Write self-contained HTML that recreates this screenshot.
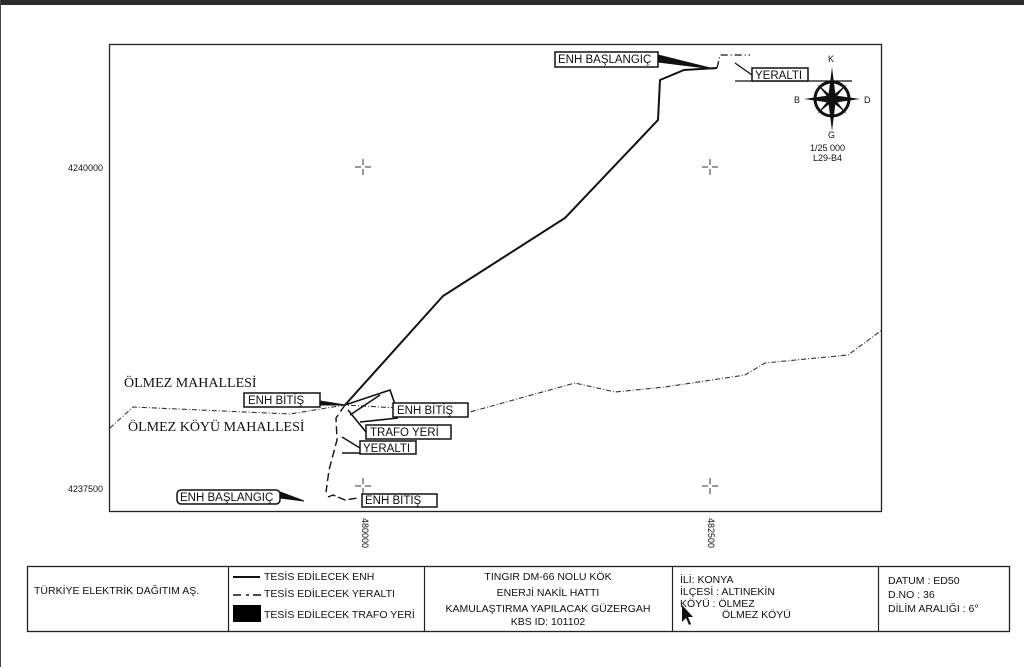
<!DOCTYPE html>
<html><head><meta charset="utf-8"><style>
html,body{margin:0;padding:0;background:#fff;width:1024px;height:667px;overflow:hidden}
svg{display:block}
text{font-family:"Liberation Sans",sans-serif;fill:#111}
.lb{font-size:11.5px}
.bx{fill:#fff;stroke:#111;stroke-width:1.5}
</style></head><body>
<svg width="1024" height="667" viewBox="0 0 1024 667" xmlns="http://www.w3.org/2000/svg">
<rect x="0" y="0" width="1024" height="5" fill="#2b2b2b"/>
<line x1="0.5" y1="0" x2="0.5" y2="667" stroke="#444" stroke-width="1"/>
<rect x="109.5" y="44.5" width="772" height="467" fill="none" stroke="#222" stroke-width="1.3"/>
<g stroke="#333" stroke-width="1">
<path d="M363 159v6M363 169v6M355 167h6M365 167h6"/>
<path d="M710 159v6M710 169v6M702 167h6M712 167h6"/>
<path d="M363 478v6M363 488v6M355 486h6M365 486h6"/>
<path d="M710 478v6M710 488v6M702 486h6M712 486h6"/>
</g>
<text x="68" y="171" font-size="9">4240000</text>
<text x="68" y="492" font-size="9">4237500</text>
<text transform="translate(362,518) rotate(90)" font-size="9">480000</text>
<text transform="translate(708,518) rotate(90)" font-size="9">482500</text>
<polyline points="110,428 133,407 200,410 290,414 345,405 470,412 575,383 615,392 665,387 745,375 765,363 848,355 882,330" fill="none" stroke="#333" stroke-width="1.1" stroke-dasharray="5,2,1,2"/>
<polyline points="345,405 443,296 565,218 658,120 660,80 684,70 717,68" fill="none" stroke="#111" stroke-width="2"/>
<polyline points="717,68 720,55 750,55" fill="none" stroke="#111" stroke-width="1.3" stroke-dasharray="7,3,1,3"/>
<polyline points="345,405 336,418 337,440 329,470 326,492" fill="none" stroke="#111" stroke-width="1.4" stroke-dasharray="8,4"/>
<polyline points="328,497 333,495 345,500 358,498" fill="none" stroke="#111" stroke-width="1.4" stroke-dasharray="8,3"/>
<text x="124" y="387" style="font-family:'Liberation Serif',serif" font-size="14">ÖLMEZ MAHALLESİ</text>
<text x="128" y="431" style="font-family:'Liberation Serif',serif" font-size="14">ÖLMEZ KÖYÜ MAHALLESİ</text>
<path d="M320 401 L345 405 L320 405" fill="#111" stroke="#111" stroke-width="1"/>
<rect class="bx" x="244" y="393" width="76" height="14"/>
<text class="lb" x="248" y="404">ENH BİTİŞ</text>
<path d="M345 405 L390 390 L397 410 M350 415 L380 395 M360 422 L398 418" fill="none" stroke="#111" stroke-width="1.6"/>
<rect class="bx" x="393" y="403" width="75" height="14"/>
<text class="lb" x="397" y="414">ENH BİTİŞ</text>
<path d="M348 410 L366 432" stroke="#111" stroke-width="1.6"/>
<rect class="bx" x="366" y="425" width="85" height="14"/>
<text class="lb" x="370" y="436">TRAFO YERİ</text>
<path d="M342 437 L360 448 M342 453 H416" fill="none" stroke="#111" stroke-width="1.4"/>
<rect class="bx" x="360" y="441" width="56" height="13"/>
<text class="lb" x="363" y="452">YERALTI</text>
<path d="M280 492 L304 501 L280 498" fill="#111" stroke="#111" stroke-width="1"/>
<rect class="bx" x="177" y="490" width="103" height="14" rx="4"/>
<text class="lb" x="180" y="501">ENH BAŞLANGIÇ</text>
<rect class="bx" x="362" y="494" width="75" height="13"/>
<text class="lb" x="365" y="504">ENH BİTİŞ</text>
<path d="M658 55 L714 69 L658 62" fill="#111" stroke="#111" stroke-width="1"/>
<rect class="bx" x="555" y="52" width="103" height="15"/>
<text class="lb" x="558" y="63">ENH BAŞLANGIÇ</text>
<path d="M735 63 L752 75 M735 81 H852" fill="none" stroke="#111" stroke-width="1.3"/>
<rect class="bx" x="752" y="68" width="56" height="13"/>
<text class="lb" x="755" y="79">YERALTI</text>
<g transform="translate(832,99)">
<circle r="17" fill="#fff" stroke="#111" stroke-width="3"/>
<g fill="#111">
<polygon points="0,-32 4,0 0,32 -4,0"/>
<polygon points="-28,0 0,-4 28,0 0,4"/>
<polygon points="-15,-15 2,-1 15,15 -2,1"/>
<polygon points="15,-15 1,2 -15,15 -1,-2"/>
</g>
</g>
<text x="828" y="62" font-size="9">K</text>
<text x="794" y="103" font-size="9">B</text>
<text x="864" y="103" font-size="9">D</text>
<text x="828" y="138" font-size="9">G</text>
<text x="810" y="151" font-size="9">1/25 000</text>
<text x="813" y="161" font-size="9">L29-B4</text>
<rect x="27.5" y="566.5" width="982" height="65" fill="none" stroke="#222" stroke-width="1.3"/>
<g stroke="#222" stroke-width="1.2">
<line x1="228.5" y1="566" x2="228.5" y2="631"/>
<line x1="424.5" y1="566" x2="424.5" y2="631"/>
<line x1="672.5" y1="566" x2="672.5" y2="631"/>
<line x1="878.5" y1="566" x2="878.5" y2="631"/>
</g>
<g font-size="10.5">
<text x="34" y="594">TÜRKİYE ELEKTRİK DAĞITIM AŞ.</text>
<line x1="233" y1="577" x2="260" y2="577" stroke="#111" stroke-width="2"/>
<text x="264" y="580">TESİS EDİLECEK ENH</text>
<path d="M233 595 h8 M246 595 h3 M253 595 h8" stroke="#111" stroke-width="1.5"/>
<text x="264" y="597">TESİS EDİLECEK YERALTI</text>
<rect x="233" y="605" width="28" height="17" fill="#000"/>
<text x="264" y="618">TESİS EDİLECEK TRAFO YERİ</text>
<text x="548" y="580" text-anchor="middle">TINGIR DM-66 NOLU KÖK</text>
<text x="548" y="596" text-anchor="middle">ENERJİ NAKİL HATTI</text>
<text x="548" y="612" text-anchor="middle">KAMULAŞTIRMA YAPILACAK  GÜZERGAH</text>
<text x="548" y="625" text-anchor="middle">KBS ID: 101102</text>
<text x="680" y="583">İLİ: KONYA</text>
<text x="680" y="595">İLÇESİ : ALTINEKİN</text>
<text x="680" y="607">KÖYÜ : ÖLMEZ</text>
<text x="722" y="618">ÖLMEZ KÖYÜ</text>
<text x="888" y="584">DATUM : ED50</text>
<text x="888" y="598">D.NO : 36</text>
<text x="888" y="612">DİLİM ARALIĞI : 6°</text>
</g>
<path d="M682 605 L682 622 L686 618 L689 625 L691 624 L688 617 L693 617 Z" fill="#111"/>
</svg>
</body></html>
